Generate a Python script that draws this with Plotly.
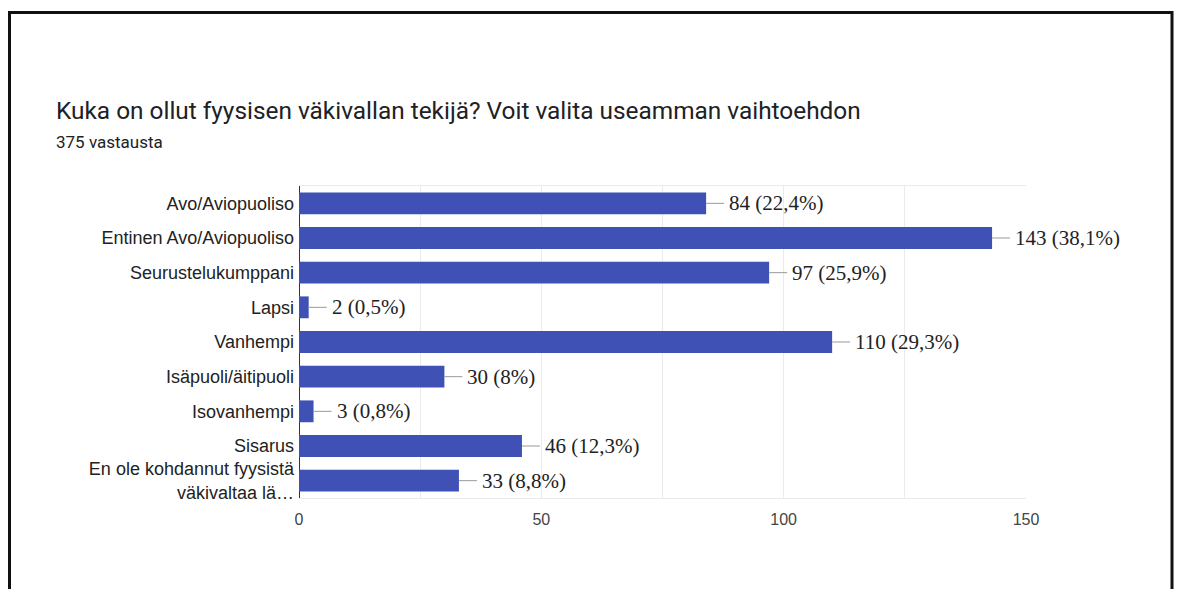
import plotly.graph_objects as go

categories = [
    "Avo/Aviopuoliso",
    "Entinen Avo/Aviopuoliso",
    "Seurustelukumppani",
    "Lapsi",
    "Vanhempi",
    "Isäpuoli/äitipuoli",
    "Isovanhempi",
    "Sisarus",
    "En ole kohdannut fyysistä<br>väkivaltaa lä…",
]
counts = [84, 143, 97, 2, 110, 30, 3, 46, 33]
percents = ["22,4%", "38,1%", "25,9%", "0,5%", "29,3%", "8%", "0,8%", "12,3%", "8,8%"]

W, H = 1178, 589
L, R, T, B = 299, 1178 - 1026, 186, 589 - 498
pw, ph = W - L - R, H - T - B


def px(x):
    return (x - L) / pw


def py(y):
    return (H - B - y) / ph


fig = go.Figure()
fig.add_trace(
    go.Bar(
        x=counts,
        y=categories,
        orientation="h",
        marker=dict(color="#3f51b5", line=dict(width=0)),
        hoverinfo="skip",
    )
)

for c, n, p in zip(categories, counts, percents):
    fig.add_annotation(
        x=n, y=c, xref="x", yref="y",
        text=f"{n} ({p})",
        showarrow=True, arrowhead=0, arrowwidth=1, arrowcolor="#999999",
        ax=18, ay=0, xanchor="left", yanchor="middle", standoff=0, borderpad=4,
        font=dict(family="Liberation Serif", size=21, color="#222222"),
    )

fig.add_annotation(
    x=px(54), y=py(110), xref="paper", yref="paper",
    text="Kuka on ollut fyysisen väkivallan tekijä? Voit valita useamman vaihtoehdon",
    showarrow=False, xanchor="left", yanchor="middle",
    font=dict(family="Roboto", size=24.4, color="#202124"),
)
fig.add_annotation(
    x=px(54), y=py(142), xref="paper", yref="paper",
    text="375 vastausta",
    showarrow=False, xanchor="left", yanchor="middle",
    font=dict(family="Roboto", size=17, color="#202124"),
)

# outer frame (its bottom edge runs off the page)
fig.add_shape(
    type="rect", xref="paper", yref="paper",
    x0=px(9.5), x1=px(1172), y0=py(660), y1=py(12.5),
    line=dict(color="#111111", width=3), layer="above",
)

fig.update_xaxes(
    range=[0, 150], tickvals=[0, 25, 50, 75, 100, 125, 150],
    ticktext=["0", "", "50", "", "100", "", "150"],
    showgrid=True, gridcolor="#ebebeb", gridwidth=1,
    showline=True, mirror=True, linecolor="#ebebeb", linewidth=1,
    zeroline=True, zerolinecolor="#333333", zerolinewidth=1,
    tickfont=dict(family="Liberation Sans", size=16, color="#444444"),
    ticks="", ticklabelstandoff=7, fixedrange=True,
)
fig.update_yaxes(
    autorange="reversed", showgrid=False, ticks="",
    tickfont=dict(family="Liberation Sans", size=18, color="#222222"),
    ticklabelstandoff=4, fixedrange=True,
)
fig.update_layout(
    width=W, height=H,
    margin=dict(l=L, r=R, t=T, b=B),
    paper_bgcolor="white", plot_bgcolor="white",
    bargap=0.37, showlegend=False,
)

fig.write_html(
    "out.html",
    config={"displayModeBar": False},
    post_script="document.body.style.margin='0';document.body.style.overflow='hidden';",
)
